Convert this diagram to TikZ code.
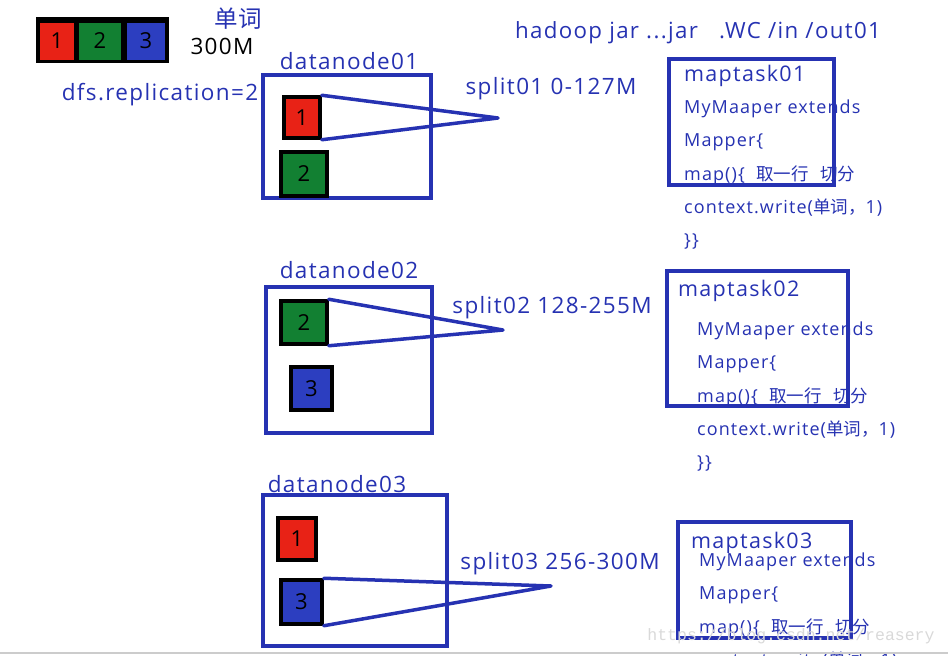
\documentclass[tikz,border=0pt]{standalone}
\usepackage{fontspec}
\setmainfont[LetterSpace=6]{Open Sans}
\newfontfamily\cjk{Noto Sans CJK SC}
\newfontfamily\wmfont{Liberation Mono}
\definecolor{pen}{RGB}{38,50,178}
\definecolor{bred}{RGB}{232,34,22}
\definecolor{bgreen}{RGB}{18,128,50}
\definecolor{bblue}{RGB}{44,62,192}

\begin{document}
\begin{tikzpicture}[x=1pt,y=-1pt,
  blk/.style={draw=black,line width=3.5pt,inner sep=0pt,font=\fontsize{22}{22}\selectfont},
  box/.style={draw=pen,line width=3.5pt,inner sep=0pt},
  lbl/.style={text=pen,inner sep=0pt,font=\fontsize{22.5}{22.5}\selectfont},
  code/.style={text=pen,fill=white,inner sep=0pt,anchor=west,font=\fontsize{18}{18}\selectfont},
  cut/.style={draw=pen,line width=3.5pt,line join=round,line cap=round}]
   \useasboundingbox (0,0) rectangle (948,656);
   \clip (0,0) rectangle (948,656);
   % the file: three blocks
   \fill[black] (36,17) rectangle (169,63);
   \node[fill=bred,minimum width=34,minimum height=37,inner sep=0pt,font=\fontsize{22}{22}\selectfont] (f1) at (57,41) {1};
   \node[fill=bgreen,minimum width=42,minimum height=37,inner sep=0pt,font=\fontsize{22}{22}\selectfont] (f2) at (100,41) {2};
   \node[fill=bblue,minimum width=38,minimum height=37,inner sep=0pt,font=\fontsize{22}{22}\selectfont] (f3) at (146,41) {3};
   \node[lbl,font=\cjk\fontsize{23.5}{23.5}\selectfont] (word) at (238,19) {单词};
   \node[lbl,text=black] (size) at (222,46) {300M};
   \node[lbl] (repl) at (160,95) {dfs.replication=2};
   \node[lbl,font=\fontsize{22.3}{22.3}\selectfont] (cmd) at (698,33) {hadoop jar ...jar\ \ \ .WC /in /out01};
   % datanodes
   \node[lbl] (dn01l) at (349,61) {datanode01};
   \node[lbl] (dn02l) at (349,270) {datanode02};
   \node[lbl] (dn03l) at (337,484) {datanode03};
   \node[box,minimum width=168,minimum height=123] (dn01) at (347,136.5) {};
   \node[box,minimum width=166,minimum height=146] (dn02) at (349,360) {};
   \node[box,minimum width=184,minimum height=151] (dn03) at (355,570.5) {};
   \node[blk,fill=bred,minimum width=36,minimum height=41] (b11) at (302,117.5) {1};
   \node[blk,fill=bgreen,minimum width=46,minimum height=44] (b12) at (304,174) {2};
   \node[blk,fill=bgreen,minimum width=46,minimum height=43] (b22) at (304,322.5) {2};
   \node[blk,fill=bblue,minimum width=41,minimum height=43] (b23) at (311.5,388.5) {3};
   \node[blk,fill=bred,minimum width=38,minimum height=42] (b31) at (297,539) {1};
   \node[blk,fill=bblue,minimum width=41,minimum height=44] (b33) at (301.5,602) {3};
   % splits
   \coordinate (s01) at (498,118);
   \coordinate (s02) at (503,330);
   \coordinate (s03) at (551,586);
   \draw[cut] (b11.north east) -- (s01) -- (b11.south east);
   \draw[cut] (b22.north east) -- (s02) -- (b22.south east);
   \draw[cut] (b33.north east) -- (s03) -- (b33.south east);
   \node[lbl] (s01l) at (551,89) {split01 0-127M};
   \node[lbl] (s02l) at (552,308) {split02 128-255M};
   \node[lbl] (s03l) at (560,564) {split03 256-300M};
   % maptasks
   \foreach \n/\tx/\ty/\cx/\cy/\m in {01/684/76/684/109/5, 02/678/291/697/331/5, 03/691/543/699/562/4} {
      \node[lbl,anchor=west,font=\fontsize{21.5}{21.5}\selectfont] (mt\n t) at (\tx,\ty) {maptask\n};
      \foreach \t [count=\i] in {{MyMaaper extends}, {Mapper\{}, {map()\{\ \ {\cjk\fontsize{17.5}{18}\selectfont 取一行}\ \ {\cjk\fontsize{17.5}{18}\selectfont 切分}}, {context.write({\cjk\fontsize{17.5}{18}\selectfont 单词，}1)}, {\}\}}} {
         \ifnum\i>\m\else \node[code] (mt\n c\i) at (\cx,\cy+33*\i-33) {\t}; \fi
      }
   }
   \node[box,minimum width=165,minimum height=126] (mt01) at (751.5,122) {};
   \node[box,minimum width=181,minimum height=135] (mt02) at (757.5,338.5) {};
   \node[box,minimum width=173,minimum height=116] (mt03) at (764.5,580) {};
   \node[text=gray!30,inner sep=0pt,font=\wmfont\fontsize{16.5}{16.5}\selectfont] (wm) at (791,636) {https://blog.csdn.net/reasery};
   \draw[gray!40,line width=1.5pt] (0,653) -- (948,653);
\end{tikzpicture}
\end{document}
